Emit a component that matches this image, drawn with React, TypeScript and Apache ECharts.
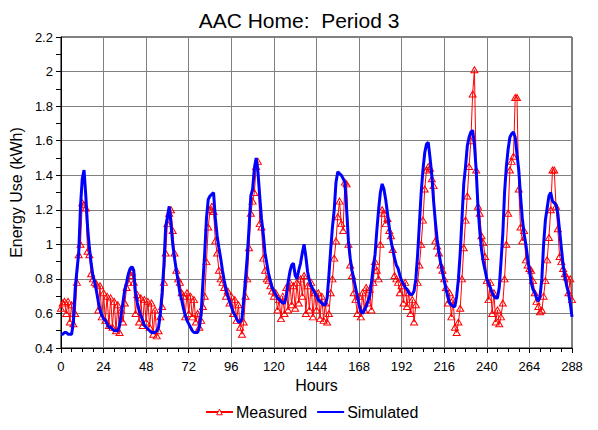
import React, { useEffect, useRef } from "react";
import * as echarts from "echarts";

const title = "AAC Home:\u00a0 Period 3";
const xName = "Hours";
const yName = "Energy Use (kWh)";
const seriesNames = ["Measured", "Simulated"];

// hourly values, hour 0..288
const simulated = [
  0.48, 0.48, 0.49, 0.49, 0.48, 0.48, 0.48, 0.55, 0.74, 0.85,
  0.95, 1.22, 1.38, 1.43, 1.28, 1.10, 0.98, 0.89, 0.82, 0.78,
  0.73, 0.67, 0.62, 0.59, 0.57, 0.56, 0.54, 0.52, 0.52, 0.51,
  0.50, 0.50, 0.50, 0.53, 0.60, 0.67, 0.74, 0.78, 0.83, 0.86,
  0.87, 0.85, 0.72, 0.66, 0.62, 0.59, 0.56, 0.53, 0.52, 0.51,
  0.50, 0.49, 0.49, 0.49, 0.50, 0.52, 0.60, 0.72, 0.88, 1.10,
  1.16, 1.22, 1.12, 1.00, 0.92, 0.85, 0.79, 0.72, 0.68, 0.63,
  0.59, 0.56, 0.54, 0.52, 0.50, 0.49, 0.49, 0.49, 0.52, 0.60,
  0.78, 0.95, 1.15, 1.26, 1.28, 1.29, 1.30, 1.15, 1.05, 0.98,
  0.92, 0.85, 0.79, 0.74, 0.70, 0.67, 0.64, 0.61, 0.59, 0.57,
  0.55, 0.55, 0.57, 0.68, 0.80, 0.93, 1.10, 1.28, 1.32, 1.44,
  1.50, 1.42, 1.28, 1.15, 1.06, 0.95, 0.89, 0.83, 0.79, 0.75,
  0.73, 0.71, 0.69, 0.68, 0.67, 0.66, 0.66, 0.70, 0.78, 0.84,
  0.88, 0.89, 0.82, 0.80, 0.85, 0.89, 0.95, 1.00, 0.93, 0.84,
  0.79, 0.76, 0.74, 0.72, 0.70, 0.68, 0.67, 0.66, 0.65, 0.65,
  0.69, 0.82, 0.97, 1.10, 1.20, 1.36, 1.42, 1.41, 1.40, 1.38,
  1.36, 1.20, 1.02, 0.92, 0.85, 0.80, 0.75, 0.70, 0.65, 0.61,
  0.60, 0.62, 0.64, 0.67, 0.70, 0.78, 0.87, 0.94, 1.08, 1.20,
  1.30, 1.35, 1.32, 1.26, 1.18, 1.10, 1.02, 0.97, 0.92, 0.88,
  0.86, 0.82, 0.79, 0.77, 0.75, 0.74, 0.72, 0.71, 0.71, 0.73,
  0.80, 0.94, 1.12, 1.30, 1.43, 1.53, 1.58, 1.59, 1.50, 1.40,
  1.25, 1.13, 1.03, 0.95, 0.89, 0.84, 0.79, 0.74, 0.70, 0.66,
  0.65, 0.64, 0.64, 0.70, 0.80, 0.95, 1.15, 1.35, 1.45, 1.57,
  1.62, 1.65, 1.66, 1.58, 1.43, 1.22, 1.08, 0.97, 0.90, 0.85,
  0.80, 0.77, 0.75, 0.72, 0.70, 0.69, 0.69, 0.75, 0.90, 1.06,
  1.30, 1.45, 1.55, 1.62, 1.64, 1.65, 1.62, 1.52, 1.43, 1.28,
  1.15, 1.06, 1.00, 0.92, 0.85, 0.78, 0.74, 0.72, 0.69, 0.67,
  0.70, 0.80, 1.00, 1.14, 1.21, 1.28, 1.30, 1.25, 1.24, 1.23,
  1.18, 1.08, 0.98, 0.88, 0.81, 0.76, 0.72, 0.66, 0.58,
];

const measured = [
  0.63, 0.66, 0.67, 0.60, 0.67, 0.55, 0.65, 0.54, 0.60, 0.78,
  0.94, 1.00, 1.24, 1.23, 1.21, 0.96, 0.94, 0.83, 0.80, 0.78,
  0.77, 0.62, 0.76, 0.58, 0.72, 0.56, 0.70, 0.53, 0.69, 0.52,
  0.67, 0.50, 0.65, 0.49, 0.62, 0.55, 0.66, 0.75, 0.78, 0.82,
  0.84, 0.78, 0.60, 0.71, 0.55, 0.69, 0.53, 0.68, 0.55, 0.67,
  0.52, 0.66, 0.48, 0.62, 0.47, 0.50, 0.58, 0.64, 0.78, 0.95,
  1.12, 1.18, 1.20, 1.08, 0.95, 0.85, 0.80, 0.78, 0.72, 0.70,
  0.58, 0.72, 0.60, 0.70, 0.58, 0.68, 0.55, 0.60, 0.52, 0.56,
  0.64, 0.70, 0.90, 1.10, 1.20, 1.22, 1.19, 1.02, 0.95, 0.85,
  0.80, 0.78, 0.75, 0.70, 0.73, 0.66, 0.70, 0.60, 0.68, 0.56,
  0.65, 0.52, 0.48, 0.55, 0.70, 0.80, 0.98, 1.18, 1.25, 1.30,
  1.45, 1.48, 1.12, 1.10, 0.92, 0.85, 0.80, 0.79, 0.76, 0.73,
  0.70, 0.72, 0.62, 0.68, 0.57, 0.70, 0.60, 0.75, 0.62, 0.78,
  0.65, 0.76, 0.63, 0.78, 0.66, 0.80, 0.70, 0.82, 0.60, 0.76,
  0.62, 0.78, 0.58, 0.72, 0.62, 0.72, 0.57, 0.70, 0.56, 0.66,
  0.55, 0.60, 0.72, 0.80, 0.92, 1.02, 1.16, 1.25, 1.12, 1.08,
  1.36, 1.35, 1.00, 0.88, 0.82, 0.72, 0.68, 0.60, 0.70, 0.58,
  0.72, 0.62, 0.75, 0.66, 0.74, 0.62, 0.78, 0.90, 0.85, 0.80,
  1.00, 1.20, 1.18, 1.12, 1.15, 1.08, 1.05, 0.97, 0.82, 0.80,
  0.78, 0.72, 0.76, 0.66, 0.78, 0.64, 0.72, 0.60, 0.68, 0.55,
  0.65, 0.78, 0.88, 1.00, 1.14, 1.32, 1.43, 1.45, 1.44, 1.38,
  1.34, 1.02, 0.99, 0.95, 0.88, 0.85, 0.80, 0.75, 0.66, 0.72,
  0.58, 0.68, 0.52, 0.49, 0.55, 0.63, 0.80, 0.98, 1.14, 1.28,
  1.45, 1.60, 1.87, 2.01, 1.43, 1.22, 1.18, 1.05, 1.01, 0.93,
  0.79, 0.68, 0.78, 0.60, 0.72, 0.55, 0.62, 0.54, 0.58, 0.66,
  0.80, 1.00, 1.18, 1.43, 1.48, 1.51, 1.85, 1.85, 1.32, 1.10,
  1.02, 1.08, 0.91, 0.88, 0.86, 0.85, 0.79, 0.72, 0.67, 0.64,
  0.61, 0.62, 0.70, 0.79, 0.91, 1.04, 1.20, 1.43, 1.43, 1.22,
  1.09, 0.93, 0.90, 0.86, 0.83, 0.81, 0.72, 0.80, 0.68,
];

const font = "Arial, 'Liberation Sans', sans-serif";

export default function App() {
  const ref = useRef<HTMLDivElement>(null);
  useEffect(() => {
    if (!ref.current) return;
    const chart = echarts.init(ref.current, undefined, { renderer: "svg" });
    const meas = measured.map((v, i) => [i, v]);
    const sim = simulated.map((v, i) => [i, v]);
    chart.setOption({
      animation: false,
      backgroundColor: "#ffffff",
      textStyle: { fontFamily: font, color: "#000" },
      title: {
        text: title,
        left: "center",
        top: 5,
        textStyle: { fontFamily: font, fontSize: 21, fontWeight: "normal", color: "#000" },
      },
      legend: {
        data: [
          {
            name: seriesNames[0],
            itemStyle: { color: "#ffffff", borderColor: "#ff0000", borderWidth: 1 },
          },
          { name: seriesNames[1] },
        ],
        left: 200,
        top: 399,
        itemWidth: 27,
        itemHeight: 7,
        itemGap: 9,
        textStyle: { fontFamily: font, fontSize: 16, color: "#000", padding: [0, 0, 0, -2] },
      },
      grid: {
        left: 60,
        right: 26,
        top: 37,
        bottom: 82,
        show: true,
        borderColor: "#000",
        borderWidth: 1,
        backgroundColor: "transparent",
      },
      xAxis: {
        type: "value",
        min: 0,
        max: 288,
        interval: 24,
        name: xName,
        nameLocation: "middle",
        nameGap: 28,
        nameTextStyle: { fontFamily: font, fontSize: 16, color: "#000" },
        axisLine: { show: true, lineStyle: { color: "#000", width: 1 } },
        axisTick: { show: true, length: 5, lineStyle: { color: "#000" } },
        minorTick: { show: true, splitNumber: 4, length: 4, lineStyle: { color: "#000" } },
        axisLabel: { fontFamily: font, fontSize: 13, color: "#000", margin: 12 },
        splitLine: { show: true, lineStyle: { color: "#808080", width: 1 } },
      },
      yAxis: {
        type: "value",
        min: 0.4,
        max: 2.2,
        interval: 0.2,
        name: yName,
        nameLocation: "middle",
        nameGap: 32,
        nameTextStyle: { fontFamily: font, fontSize: 16, color: "#000" },
        axisLine: { show: true, lineStyle: { color: "#000", width: 1 } },
        axisTick: { show: true, length: 5, lineStyle: { color: "#000" } },
        minorTick: { show: true, splitNumber: 2, length: 5, lineStyle: { color: "#000" } },
        axisLabel: {
          fontFamily: font,
          fontSize: 13,
          color: "#000",
          margin: 8,
          formatter: (v: number) => String(Math.round(v * 10) / 10),
        },
        splitLine: { show: true, lineStyle: { color: "#808080", width: 1 } },
      },
      series: [
        {
          name: seriesNames[0],
          type: "line",
          data: meas,
          symbol: "triangle",
          symbolSize: [7, 6],
          showAllSymbol: true,
          color: "#ff0000",
          lineStyle: { color: "#ff0000", width: 1 },
          itemStyle: { color: "rgba(255,255,255,0)", borderColor: "#ff0000", borderWidth: 1 },
          z: 2,
        },
        {
          name: seriesNames[1],
          type: "line",
          data: sim,
          symbol: "none",
          color: "#0000ff",
          lineStyle: { color: "#0000ff", width: 3 },
          itemStyle: { color: "rgba(0,0,0,0)", borderColor: "rgba(0,0,0,0)", borderWidth: 0 },
          z: 3,
        },
      ],
    });
    return () => chart.dispose();
  }, []);
  return <div ref={ref} style={{ width: 598, height: 430, position: "absolute", left: 0, top: 0 }} />;
}
